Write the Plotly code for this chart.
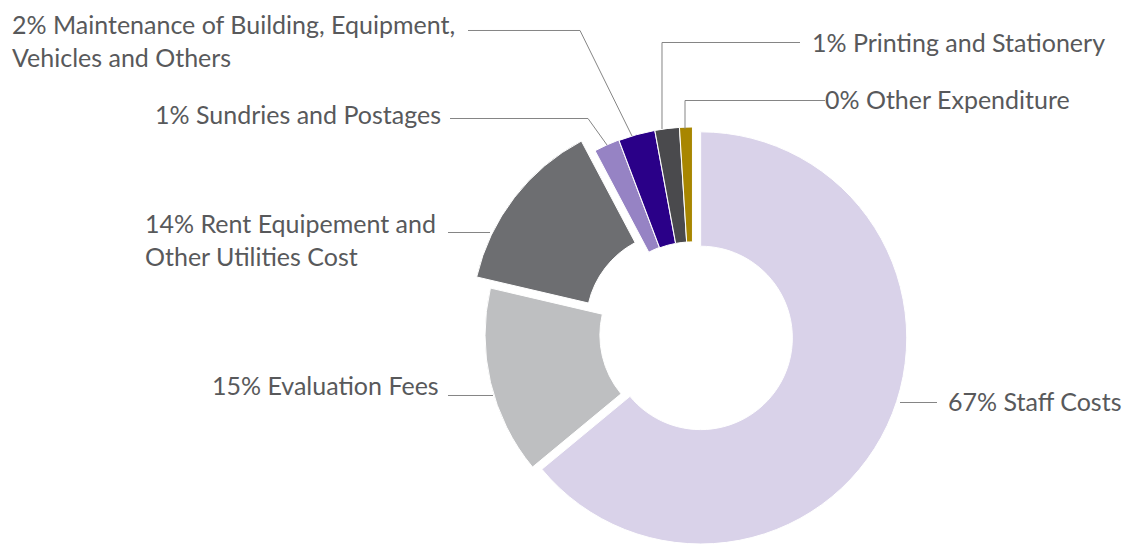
import math
import plotly.graph_objects as go

# ---------------- data ----------------
categories = [
    "Staff Costs",
    "Evaluation Fees",
    "Rent Equipement and\nOther Utilities Cost",
    "Sundries and Postages",
    "Maintenance of Building, Equipment,\nVehicles and Others",
    "Printing and Stationery",
    "Other Expenditure",
]
# slice sizes as drawn (share of the ring)
shares = [64.0, 14.65, 13.6, 2.0, 2.85, 1.9, 1.0]
# percentages printed in the labels
pct_labels = ["67%", "15%", "14%", "1%", "2%", "1%", "0%"]

# ---------------- style ----------------
colors = ["#D9D2E9", "#BEBFC1", "#6D6E71", "#9683C4", "#2A0088", "#4A4A4D", "#A88600"]
pull_px = [9.0, 0.5, 18.0, 1.5, 1.0, 1.0, 1.0]   # explode distance of each slice (px)

W, H = 1125, 544
OX, OY, R = 692.5, 335.0, 207.0   # pixel coordinates
HOLE = 0.445
TEXT_COLOR = "#58595B"
LINE_COLOR = "#858585"
FONT = "Lato"
FSIZE = 25

def px(x):
    return x / W

def py(y):
    return 1 - y / H

fig = go.Figure()

total = sum(shares)
start = 0.0
n = len(shares)
for k in range(n):
    ang = shares[k] / total * 360.0
    mid = math.radians(start + ang / 2.0)
    start += ang
    cx = OX + pull_px[k] * math.sin(mid)
    cy = OY - pull_px[k] * math.cos(mid)
    x0 = max(0.0, px(cx - R))
    x1 = min(1.0, px(cx + R))
    y0 = max(0.0, py(cy + R))
    y1 = min(1.0, py(cy - R))
    fill = [colors[i] if i == k else "rgba(0,0,0,0)" for i in range(n)]
    lw = [1 if i == k else 0 for i in range(n)]
    fig.add_trace(go.Pie(
        labels=[c.replace("\n", " ") for c in categories],
        values=shares,
        sort=False,
        direction="clockwise",
        rotation=0,
        hole=HOLE,
        textinfo="none",
        hoverinfo="skip",
        marker=dict(colors=fill, line=dict(color=["#FFFFFF"] * n, width=lw)),
        domain=dict(x=[x0, x1], y=[y0, y1]),
        showlegend=False,
    ))

# label placement (pixels): x, y, anchor
label_pos = {
    0: (946, 401, "left"),
    1: (441, 385, "right"),
    2: (143, 239, "left"),
    3: (443, 114, "right"),
    4: (10, 41, "left"),
    5: (810, 42, "left"),
    6: (823, 99, "left"),
}
leaders = {
    0: [(900, 402.5), (937, 402.5)],
    1: [(448, 395.5), (493, 395.5)],
    2: [(448, 232.5), (490, 232.5)],
    3: [(450, 118.5), (588, 118.5), (607, 145)],
    4: [(468, 30.5), (580, 30.5), (632, 136)],
    5: [(800, 42.5), (662, 42.5), (662, 129)],
    6: [(825, 100.5), (685, 100.5), (685, 129)],
}

annotations = []
shapes = []
for k in range(n):
    x, y, anc = label_pos[k]
    txt = pct_labels[k] + " " + categories[k].replace("\n", "<br>")
    annotations.append(dict(
        x=px(x), y=py(y), xref="paper", yref="paper",
        xanchor=anc, yanchor="middle", align=anc,
        text=txt, showarrow=False,
        font=dict(family=FONT, size=FSIZE, color=TEXT_COLOR),
    ))
    pts = leaders[k]
    path = "M " + " L ".join(f"{px(a):.6f},{py(b):.6f}" for a, b in pts)
    shapes.append(dict(type="path", xref="paper", yref="paper", path=path,
                       line=dict(color=LINE_COLOR, width=1)))

fig.update_layout(
    width=W, height=H,
    margin=dict(l=0, r=0, t=0, b=0),
    paper_bgcolor="white",
    plot_bgcolor="white",
    showlegend=False,
    annotations=annotations,
    shapes=shapes,
)

fig.write_html(
    "out.html",
    config={"displayModeBar": False},
    post_script="document.body.style.margin='0';document.body.style.overflow='hidden';",
)
